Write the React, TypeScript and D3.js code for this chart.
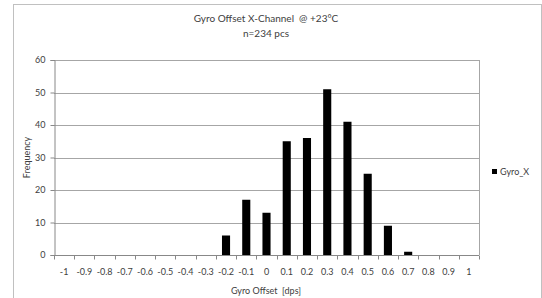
import React, { useRef, useEffect } from "react";
import * as d3 from "d3";

const categories = ["-1", "-0.9", "-0.8", "-0.7", "-0.6", "-0.5", "-0.4", "-0.3", "-0.2", "-0.1", "0", "0.1", "0.2", "0.3", "0.4", "0.5", "0.6", "0.7", "0.8", "0.9", "1"];
const gyroX = [0, 0, 0, 0, 0, 0, 0, 0, 6, 17, 13, 35, 36, 51, 41, 25, 9, 1, 0, 0, 0];
const yTicks = [0, 10, 20, 30, 40, 50, 60];

const W = 542;
const H = 298;
const FONT = "Lato, 'Open Sans', sans-serif";

function GyroChart() {
  const svgRef = useRef<SVGSVGElement>(null);

  useEffect(() => {
    const svg = d3.select(svgRef.current);
    svg.selectAll("*").remove();

    const left = 54, right = 479, top = 60, bottom = 255;

    // scales
    const x = d3.scaleBand().domain(categories).range([left, right]).paddingInner(0.6).paddingOuter(0.3);
    const xb = d3.scaleBand().domain(categories).range([left, right]);
    const y = d3.scaleLinear().domain([0, 60]).range([bottom, top]);

    // outer frame
    svg.append("rect")
      .attr("x", 13.5).attr("y", 4.5)
      .attr("width", 528).attr("height", 300)
      .attr("fill", "white").attr("stroke", "#c0c0c0");

    // gridlines
    svg.append("g")
      .selectAll("line")
      .data(yTicks.filter(d => d > 0))
      .join("line")
      .attr("x1", left).attr("x2", right)
      .attr("y1", d => Math.round(y(d)) + 0.5).attr("y2", d => Math.round(y(d)) + 0.5)
      .attr("stroke", "#a6a6a6");

    // right plot border
    svg.append("line")
      .attr("x1", right + 0.5).attr("x2", right + 0.5)
      .attr("y1", top).attr("y2", bottom)
      .attr("stroke", "#a6a6a6");

    // bars
    svg.append("g")
      .selectAll("rect")
      .data(gyroX)
      .join("rect")
      .attr("x", (d, i) => x(categories[i]))
      .attr("y", d => y(d))
      .attr("width", x.bandwidth())
      .attr("height", d => bottom - y(d))
      .attr("fill", "#000");

    // y axis
    const yAxis = d3.axisLeft(y).tickValues(yTicks).tickSize(4).tickPadding(5);
    const gy = svg.append("g").attr("transform", `translate(${left + 0.5},0)`).call(yAxis);
    gy.select(".domain").attr("stroke", "#888");
    gy.selectAll(".tick line").attr("stroke", "#888");
    gy.selectAll("text").attr("font-family", FONT).attr("font-size", 9).attr("fill", "#404040");

    // x axis with ticks at band edges
    const gx = svg.append("g").attr("transform", `translate(0,${bottom + 0.5})`);
    gx.append("line").attr("x1", left).attr("x2", right).attr("stroke", "#888");
    const edges = categories.map(c => xb(c) as number).concat([right]);
    gx.selectAll(".tk")
      .data(edges)
      .join("line")
      .attr("class", "tk")
      .attr("x1", d => Math.round(d) + 0.5).attr("x2", d => Math.round(d) + 0.5)
      .attr("y1", 0).attr("y2", 4)
      .attr("stroke", "#888");
    gx.selectAll("text")
      .data(categories)
      .join("text")
      .attr("x", d => (xb(d) as number) + xb.bandwidth() / 2)
      .attr("y", 19)
      .attr("text-anchor", "middle")
      .attr("font-family", FONT).attr("font-size", 9).attr("fill", "#404040")
      .text(d => d);

    // titles (keep the double spaces)
    svg.append("text")
      .attr("x", 266).attr("y", 22)
      .attr("text-anchor", "middle")
      .style("white-space", "pre")
      .attr("font-family", FONT).attr("font-size", 10).attr("fill", "#404040")
      .text("Gyro Offset X-Channel  @ +23°C");
    svg.append("text")
      .attr("x", 266).attr("y", 37)
      .attr("text-anchor", "middle")
      .attr("font-family", FONT).attr("font-size", 10).attr("fill", "#404040")
      .text("n=234 pcs");

    svg.append("text")
      .attr("x", 266).attr("y", 294)
      .attr("text-anchor", "middle")
      .style("white-space", "pre")
      .attr("font-family", FONT).attr("font-size", 9).attr("fill", "#404040")
      .text("Gyro Offset  [dps]");

    svg.append("text")
      .attr("transform", `translate(30,${(top + bottom) / 2}) rotate(-90)`)
      .attr("text-anchor", "middle")
      .attr("font-family", FONT).attr("font-size", 9).attr("fill", "#404040")
      .text("Frequency");

    // legend
    svg.append("rect")
      .attr("x", 492).attr("y", 169).attr("width", 5).attr("height", 5).attr("fill", "#000");
    svg.append("text")
      .attr("x", 500).attr("y", 175)
      .attr("font-family", FONT).attr("font-size", 9).attr("fill", "#404040")
      .text("Gyro_X");
  }, []);

  return <svg ref={svgRef} width={W} height={H} style={{ position: "absolute", left: 0, top: 0, background: "#fff" }} />;
}

export default function App() {
  return <GyroChart />;
}
